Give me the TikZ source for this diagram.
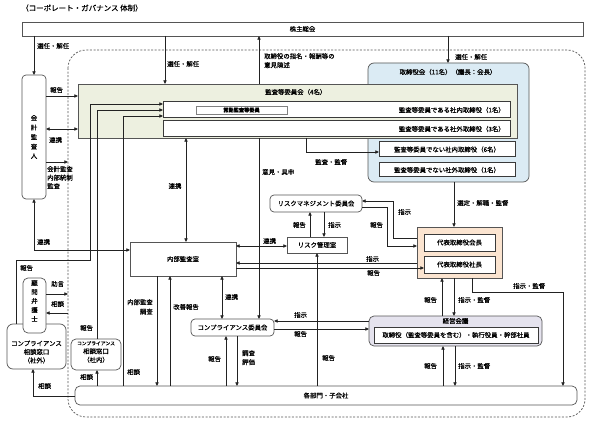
\documentclass[tikz,border=0pt]{standalone}
\usepackage{fontspec}
\setmainfont{Noto Sans CJK JP}[FakeBold=0.5]
\usetikzlibrary{arrows.meta}
\definecolor{bordc}{HTML}{555555}
\definecolor{innerc}{HTML}{3A3A3A}
\definecolor{linec}{HTML}{222222}
\definecolor{kgreen}{HTML}{EDF0E0}
\definecolor{kblue}{HTML}{DBEBF4}
\definecolor{kpeach}{HTML}{FBE4D0}
\definecolor{klav}{HTML}{E5E3EE}
\definecolor{dashc}{HTML}{555555}
\begin{document}
\begin{tikzpicture}[x=1pt,y=-1pt,
  font=\fontsize{6.4}{8}\selectfont,
  >={Triangle[length=3.6pt,width=3.2pt]},
  frame/.style={draw=bordc,line width=0.7pt,inner sep=0pt,outer sep=0pt},
  rbox/.style={frame,rounded corners=#1},
  innerbox/.style={draw=innerc,line width=1pt,fill=white,inner sep=0pt,outer sep=0pt},
  lbl/.style={inner sep=0pt,anchor=west},
  mlbl/.style={inner sep=0pt,anchor=north west,align=left,font=\fontsize{6.4}{9}\selectfont},
  conn/.style={draw=linec,line width=0.65pt},
]
\useasboundingbox (0,0) rectangle (601,430);
\fill[white] (0,0) rectangle (601,430);

% title
\node[lbl, font=\fontsize{7.5}{9}\selectfont] (title) at (21,8) {（コーポレート・ガバナンス 体制）};

% dashed frame
\draw[dashc, line width=0.7pt, dash pattern=on 2pt off 1.6pt, rounded corners=18pt] (68,50) rectangle (585,417);
\coordinate (dL162) at (68,162);
\coordinate (dL294) at (68,294);
\coordinate (dL313) at (68,313);

% boxes
\node[frame, minimum width=561pt, minimum height=14pt] (kabu) at (302.5,29) {株主総会};
\node[rbox=4pt, minimum width=24pt, minimum height=124pt, align=center, font=\fontsize{6.4}{9.5}\selectfont] (kaikei) at (34,137) {会\\計\\監\\査\\人};

\node[frame, fill=kblue, rounded corners=6pt, minimum width=161pt, minimum height=119pt] (tori) at (448.5,122.5) {};
\node[lbl, anchor=center] (toriT) at (448,72) {取締役会（11名）（議長：会長）};
\node[frame, fill=kgreen, minimum width=439pt, minimum height=54pt] (kansa) at (297.5,111) {};
\node[lbl] (kansaT) at (265,92) {監査等委員会（4名）};
\node[innerbox, minimum width=347pt, minimum height=16pt] (box1) at (336.5,110) {};
\node[innerbox, minimum width=347pt, minimum height=16pt] (box2) at (336.5,129) {};
\node[lbl, anchor=east] (box1T) at (505,110) {監査等委員である社内取締役（1名）};
\node[lbl, anchor=east] (box2T) at (505,129) {監査等委員である社外取締役（3名）};
\node[draw=gray, line width=0.6pt, fill=white, minimum width=91pt, minimum height=8pt, inner sep=0pt, font=\fontsize{5.2}{6}\selectfont\bfseries] (jokin) at (241.5,110) {常勤監査等委員};
\node[innerbox, minimum width=136pt, minimum height=15pt] (naibu6) at (447,149.5) {監査等委員でない社内取締役（6名）};
\node[innerbox, minimum width=136pt, minimum height=14pt] (gaibu1) at (447,170) {監査等委員でない社外取締役（1名）};

\node[frame, fill=kpeach, minimum width=85pt, minimum height=51pt] (daihyo) at (459.5,252.5) {};
\node[innerbox, minimum width=71pt, minimum height=17pt] (kaicho) at (459.5,242.5) {代表取締役会長};
\node[innerbox, minimum width=71pt, minimum height=17pt] (shacho) at (459.5,264.5) {代表取締役社長};

\node[rbox=4pt, fill=white, minimum width=92pt, minimum height=17pt] (riskcom) at (316,203.5) {リスクマネジメント委員会};
\node[frame, minimum width=60pt, minimum height=16pt] (riskkan) at (317,245) {リスク管理室};
\node[frame, minimum width=106pt, minimum height=34pt] (naibukansa) at (183,259) {内部監査室};
\node[rbox=4pt, minimum width=83pt, minimum height=17pt] (compcom) at (232.5,327.5) {コンプライアンス委員会};

\node[rbox=5pt, fill=klav, minimum width=173pt, minimum height=30pt] (keiei) at (455.5,331) {};
\node[lbl, anchor=center] (keieiT) at (455.5,321) {経営会議};
\node[innerbox, minimum width=164pt, minimum height=16pt] (keieiin) at (456,335) {取締役（監査等委員を含む）・執行役員・幹部社員};

\node[rbox=5pt, minimum width=502pt, minimum height=19pt] (kakubu) at (326,395.5) {各部門・子会社};

\node[rbox=6pt, fill=white, minimum width=59pt, minimum height=45pt] (shagai) at (36.5,346.5) {};
\node[align=center, inner sep=0pt, font=\fontsize{6.4}{8.5}\selectfont] (shagaiT) at (36.5,352) {コンプライアンス\\相談窓口\\（社外）};
\node[rbox=5pt, fill=white, minimum width=23pt, minimum height=55pt] (komon) at (34.5,305.5) {};
\node[align=center, inner sep=0pt, font=\fontsize{6.4}{9}\selectfont] (komonT) at (34.5,301) {顧\\問\\弁\\護\\士};
\node[rbox=5pt, fill=white, minimum width=50pt, minimum height=31pt] (shanai) at (96,354.5) {};
\node[align=center, inner sep=0pt, font=\fontsize{6.4}{8.5}\selectfont] (shanaiT) at (96,352) {{\fontsize{4.8}{6}\selectfont コンプライアンス}\\相談窓口\\（社内）};

% connectors
\draw[conn,->] (kaikei.north |- kabu.south) -- (kaikei.north);
\node[lbl] (L1) at (37,46) {選任・解任};
\draw[conn,->] (165,0 |- kabu.south) -- (165,0 |- kansa.north);
\node[lbl] (L2) at (167,64) {選任・解任};
\draw[conn,->] (259,0 |- kansa.north) -- (259,0 |- kabu.south);
\node[mlbl] (L3) at (264,53) {取締役の指名・報酬等の\\意見陳述};
\draw[conn,->] (448,0 |- kabu.south) -- (448,0 |- tori.north);
\node[lbl] (L4) at (455,57) {選任・解任};

\draw[conn,->] (kaikei.east |- 0,96) -- (kansa.west |- 0,96);
\node[lbl] (L5) at (50,90) {報告};
\draw[conn,<->] (kaikei.east |- 0,129) -- (kansa.west |- 0,129);
\node[lbl] (L6) at (49,140) {連携};
\draw[conn,->] (kaikei.east |- dL162) -- (dL162);
\node[mlbl, font=\fontsize{6.4}{8.5}\selectfont] (L7) at (47,166) {会計監査\\内部統制\\監査};
\draw[conn,<->] (kaikei.south) |- (naibukansa.west |- 0,250);
\node[lbl] (L8) at (37,242) {連携};

\draw[conn,->] (16,0 |- shagai.north) -- (16,260) -- (90,260) -- (90,104) -- (box1.west |- 0,104);
\node[lbl] (L9) at (20,268) {報告};
\draw[conn,->] (97,0 |- shanai.north) -- (97,110) -- (box1.west |- 0,110);
\node[lbl] (L10) at (80,328) {報告};
\draw[conn,->] (123,0 |- kakubu.north) -- (123,116) -- (box1.west |- 0,116);
\node[lbl] (L11) at (127,372) {相談};
\draw[conn,->] (97,0 |- kakubu.north) -- (97,0 |- shanai.south);
\node[lbl] (L12) at (80,377) {相談};
\draw[conn,->] (kakubu.west |- 0,396) -- (33,396) -- (33,0 |- shagai.south);
\node[lbl] (L13) at (38,386) {相談};
\draw[conn,->] (komon.east |- dL294) -- (dL294);
\node[lbl] (L14) at (51,284) {助言};
\draw[conn,->] (dL313) -- (komon.east |- dL313);
\node[lbl] (L15) at (51,304) {相談};

\draw[conn,<->] (186,0 |- kansa.south) -- (186,0 |- naibukansa.north);
\node[lbl, anchor=center] (L16) at (175,186) {連携};
\draw[conn,->] (259,0 |- kansa.south) -- (259,0 |- compcom.north);
\node[lbl] (L17) at (262,172) {意見・具申};
\draw[conn,->] (306,0 |- kansa.south) |- (naibu6.west |- 0,152);
\node[lbl] (L18) at (315,162) {監査・監督};
\draw[conn,->] (454,0 |- tori.south) -- (454,0 |- daihyo.north);
\node[lbl] (L19) at (457,203) {選定・解職・監督};

\draw[conn,<->] (naibukansa.east |- 0,246) -- (riskkan.west |- 0,246);
\node[lbl] (L20) at (263,241) {連携};
\draw[conn,->] (310,0 |- riskkan.north) -- (310,0 |- riskcom.south);
\node[lbl, anchor=east] (L21) at (306,225) {報告};
\draw[conn,->] (324,0 |- riskcom.south) -- (324,0 |- riskkan.north);
\node[lbl] (L22) at (328,225) {指示};
\draw[conn,->] (daihyo.west |- 0,238) -- (393,238) -- (393,201) -- (riskcom.east |- 0,201);
\node[lbl] (L23) at (398,212) {指示};
\draw[conn,->] (riskcom.east |- 0,207) -- (387,207) -- (387,246) -- (daihyo.west |- 0,246);
\node[lbl] (L24) at (370,225) {報告};
\draw[conn,->] (daihyo.west |- 0,263) -- (naibukansa.east |- 0,263);
\node[lbl] (L25) at (366,259) {指示};
\draw[conn,->] (naibukansa.east |- 0,268) -- (shacho.west |- 0,268);
\node[lbl] (L26) at (367,273) {報告};

\draw[conn,->] (157,0 |- naibukansa.south) -- (157,0 |- kakubu.north);
\node[mlbl, anchor=north east, align=right, font=\fontsize{6.4}{9.5}\selectfont] (L27) at (153,299) {内部監査\\調査};
\draw[conn,->] (170,0 |- kakubu.north) -- (170,0 |- naibukansa.south);
\node[lbl] (L28) at (173,307) {改善報告};
\draw[conn,<->] (222,0 |- naibukansa.south) -- (222,0 |- compcom.north);
\node[lbl] (L29) at (225,297) {連携};

\draw[conn,->] (keiei.west |- 0,321) -- (compcom.east |- 0,321);
\node[lbl] (L30) at (294,315) {指示};
\draw[conn,->] (compcom.east |- 0,329) -- (keiei.west |- 0,329);
\node[lbl] (L31) at (294,334) {報告};
\draw[conn,->] (226,0 |- kakubu.north) -- (226,0 |- compcom.south);
\node[lbl] (L32) at (208,359) {報告};
\draw[conn,->] (237,0 |- compcom.south) -- (237,0 |- kakubu.north);
\node[mlbl] (L33) at (242,350) {調査\\評価};
\draw[conn,->] (317,0 |- kakubu.north) -- (317,0 |- riskkan.south);
\node[lbl] (L34) at (322,358) {報告};

\draw[conn,->] (442,0 |- keiei.north) -- (442,0 |- daihyo.south);
\node[lbl] (L35) at (424,300) {報告};
\draw[conn,->] (454,0 |- daihyo.south) -- (454,0 |- keiei.north);
\node[lbl] (L36) at (458,300) {指示・監督};
\draw[conn,->] (472,0 |- daihyo.south) -- (472,292) -- (563,292) -- (563,0 |- kakubu.north);
\node[lbl] (L37) at (513,286) {指示・監督};
\draw[conn,->] (443,0 |- kakubu.north) -- (443,0 |- keiei.south);
\node[lbl] (L38) at (424,366) {報告};
\draw[conn,->] (455,0 |- keiei.south) -- (455,0 |- kakubu.north);
\node[lbl] (L39) at (458,366) {指示・監督};
\end{tikzpicture}
\end{document}
